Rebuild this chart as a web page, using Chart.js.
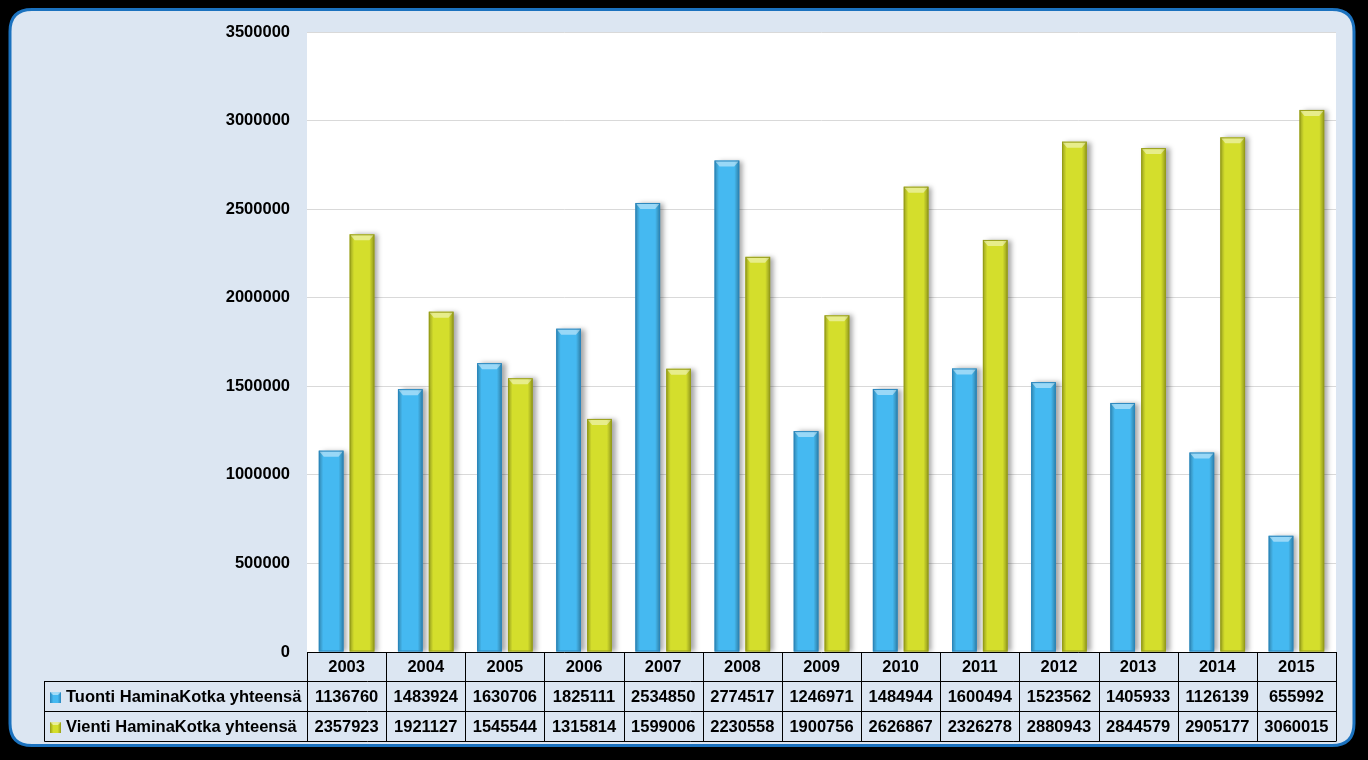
<!DOCTYPE html>
<html>
<head>
<meta charset="utf-8">
<script src="https://cdn.jsdelivr.net/npm/chart.js@4.4.1/dist/chart.umd.min.js"></script>
<style>
  html, body { margin: 0; padding: 0; background: #000; }
  #wrap { width: 1368px; height: 760px; position: relative; }
</style>
</head>
<body>
<div id="wrap"><canvas id="chartPorts"></canvas></div>
<script>
// values
var years = ['2003', '2004', '2005', '2006', '2007', '2008', '2009', '2010', '2011', '2012', '2013', '2014', '2015'];
var tuonti = [1136760, 1483924, 1630706, 1825111, 2534850, 2774517, 1246971, 1484944, 1600494, 1523562, 1405933, 1126139, 655992];
var vienti = [2357923, 1921127, 1545544, 1315814, 1599006, 2230558, 1900756, 2626867, 2326278, 2880943, 2844579, 2905177, 3060015];
var seriesNames = ['Tuonti HaminaKotka yhteensä', 'Vienti HaminaKotka yhteensä'];
var yMax = 3500000;
var yStep = 500000;

var colors = ['#45b9f1', '#d4de2c'];
var edgeColors = ['#2a86bd', '#969d17'];
var fontFamily = "'Liberation Sans', Arial, sans-serif";

function roundRect(c, x, y, w, h, r) {
	c.beginPath();
	c.moveTo(x + r, y);
	c.lineTo(x + w - r, y);
	c.quadraticCurveTo(x + w, y, x + w, y + r);
	c.lineTo(x + w, y + h - r);
	c.quadraticCurveTo(x + w, y + h, x + w - r, y + h);
	c.lineTo(x + r, y + h);
	c.quadraticCurveTo(x, y + h, x, y + h - r);
	c.lineTo(x, y + r);
	c.quadraticCurveTo(x, y, x + r, y);
	c.closePath();
}

// panel, plot background and bar shadow
var backdrop = {
	id: 'backdrop',
	beforeDraw: function(chart) {
		var c = chart.ctx, a = chart.chartArea;
		c.save();
		c.fillStyle = '#000';
		c.fillRect(0, 0, chart.width, chart.height);
		roundRect(c, 10, 9.5, 1344, 736, 22);
		c.fillStyle = '#dce6f2';
		c.fill();
		c.lineWidth = 3;
		c.strokeStyle = '#1b72bf';
		c.stroke();
		c.fillStyle = '#fff';
		c.fillRect(a.left, a.top, a.right - a.left, a.bottom - a.top);
		c.restore();
	},
	beforeDatasetsDraw: function(chart) {
		var c = chart.ctx;
		c.save();
		c.shadowColor = 'rgba(0,0,0,0.35)';
		c.shadowBlur = 5;
		c.shadowOffsetX = 4;
		c.shadowOffsetY = 0;
	},
	afterDatasetsDraw: function(chart) {
		var c = chart.ctx;
		c.restore();
		// bevel on each bar
		chart.data.datasets.forEach(function(ds, di) {
			chart.getDatasetMeta(di).data.forEach(function(bar) {
				var w = bar.width, l = bar.x - w / 2, t = bar.y, b = bar.base;
				var g = c.createLinearGradient(l, 0, l + w, 0);
				g.addColorStop(0, 'rgba(0,0,0,0.28)');
				g.addColorStop(0.18, 'rgba(0,0,0,0)');
				g.addColorStop(0.8, 'rgba(0,0,0,0)');
				g.addColorStop(1, 'rgba(0,0,0,0.32)');
				c.fillStyle = g;
				c.fillRect(l, t, w, b - t);
				c.beginPath();
				c.moveTo(l, t);
				c.lineTo(l + w, t);
				c.lineTo(l + w - 5, t + 6);
				c.lineTo(l + 5, t + 6);
				c.closePath();
				c.fillStyle = 'rgba(255,255,255,0.45)';
				c.fill();
				c.strokeStyle = edgeColors[di];
				c.lineWidth = 1;
				c.strokeRect(l + 0.5, t + 0.5, w - 1, b - t - 1);
			});
		});
	}
};

// data table below the plot, columns taken from the x scale
var dataTable = {
	id: 'dataTable',
	afterDraw: function(chart) {
		var c = chart.ctx, a = chart.chartArea, xs = chart.scales.x;
		var rows = [a.bottom, 681, 711, 741];
		var labelLeft = 44.5;
		var n = years.length;
		var step = (a.right - a.left) / n;
		c.save();
		c.strokeStyle = '#000';
		c.lineWidth = 1;
		c.beginPath();
		c.moveTo(a.left, rows[0] + 0.5);
		c.lineTo(a.right, rows[0] + 0.5);
		for (var r = 1; r < rows.length; r++) {
			c.moveTo(labelLeft, rows[r] + 0.5);
			c.lineTo(a.right, rows[r] + 0.5);
		}
		for (var i = 0; i <= n; i++) {
			var xl = Math.round(a.left + i * step) + 0.5;
			c.moveTo(xl, rows[0]);
			c.lineTo(xl, rows[3] + 0.5);
		}
		c.moveTo(labelLeft, rows[1]);
		c.lineTo(labelLeft, rows[3] + 0.5);
		c.stroke();

		c.fillStyle = '#000';
		c.font = 'bold 16.5px ' + fontFamily;
		c.textAlign = 'center';
		c.textBaseline = 'middle';
		years.forEach(function(yr, i) {
			var cx = xs.getPixelForValue(i);
			c.fillText(yr, cx, (rows[0] + rows[1]) / 2 + 1);
			c.fillText(String(tuonti[i]), cx, (rows[1] + rows[2]) / 2 + 1);
			c.fillText(String(vienti[i]), cx, (rows[2] + rows[3]) / 2 + 1);
		});
		c.textAlign = 'left';
		seriesNames.forEach(function(name, si) {
			var cy = (rows[si + 1] + rows[si + 2]) / 2 + 1;
			var g = c.createLinearGradient(50, 0, 61, 0);
			g.addColorStop(0, edgeColors[si]);
			g.addColorStop(0.3, colors[si]);
			g.addColorStop(0.7, colors[si]);
			g.addColorStop(1, edgeColors[si]);
			c.fillStyle = g;
			c.fillRect(50, cy - 5, 11, 11);
			c.fillStyle = 'rgba(255,255,255,0.5)';
			c.beginPath();
			c.moveTo(50, cy - 5);
			c.lineTo(61, cy - 5);
			c.lineTo(58, cy - 2);
			c.lineTo(53, cy - 2);
			c.closePath();
			c.fill();
			c.fillStyle = '#000';
			c.fillText(name, 66, cy);
		});
		c.restore();
	}
};

var ctx = document.getElementById('chartPorts').getContext('2d');
var chart = new Chart(ctx, {
	type: 'bar',
	data: {
		labels: years,
		datasets: [{
			label: seriesNames[0],
			backgroundColor: colors[0],
			borderWidth: 0,
			data: tuonti
		}, {
			label: seriesNames[1],
			backgroundColor: colors[1],
			borderWidth: 0,
			data: vienti
		}]
	},
	options: {
		responsive: true,
		maintainAspectRatio: false,
		animation: false,
		layout: { padding: { left: 0, top: 32, right: 32, bottom: 108 } },
		datasets: { bar: { categoryPercentage: 0.78, barPercentage: 0.8 } },
		plugins: {
			legend: { display: false },
			tooltip: { enabled: false }
		},
		scales: {
			x: { display: false },
			y: {
				min: 0,
				max: yMax,
				afterFit: function(scale) { scale.width = 307; },
				border: { display: false },
				grid: { color: '#d9d9d9', drawTicks: false },
				ticks: {
					stepSize: yStep,
					padding: 17,
					color: '#000',
					font: { family: fontFamily, size: 16.5, weight: 'bold' },
					callback: function(v) { return String(v); }
				}
			}
		}
	},
	plugins: [backdrop, dataTable]
});
</script>
</body>
</html>
